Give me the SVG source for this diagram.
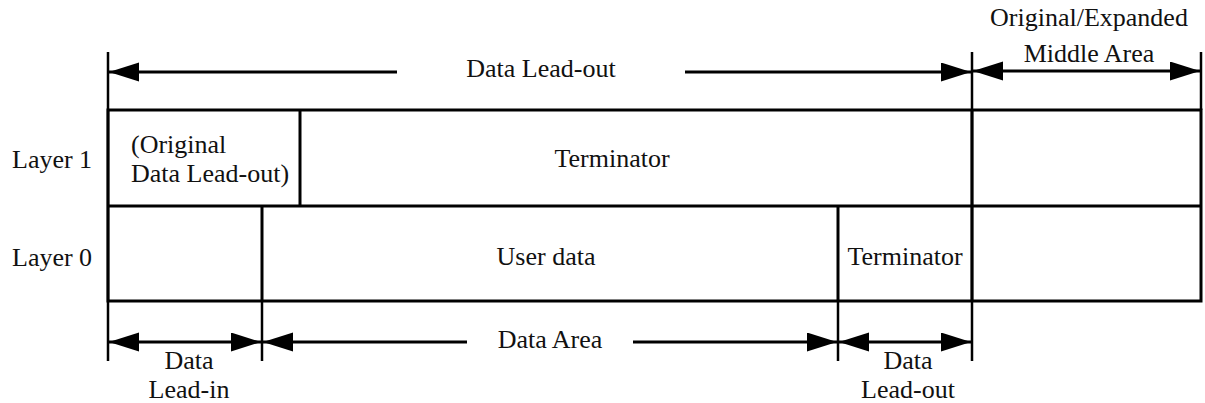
<svg xmlns="http://www.w3.org/2000/svg" width="1205" height="403" viewBox="0 0 1205 403">
<style>
text{font-family:"Liberation Serif","Times New Roman",serif;font-size:26px;fill:#111}
.c{text-anchor:middle}
.t{stroke:#000;stroke-width:3;fill:none}
.e{stroke:#000;stroke-width:2.5;fill:none}
.a{stroke:#000;stroke-width:3;fill:none}
</style>
<defs>
<marker id="ah" markerUnits="userSpaceOnUse" markerWidth="32" markerHeight="20" refX="30" refY="9.5" orient="auto-start-reverse" viewBox="0 0 32 20">
<path d="M0,0 L30,9.5 L0,19 Z" fill="#000"/>
</marker>
</defs>
<rect width="1205" height="403" fill="#fff"/>
<g id="table">
<rect class="t" x="108" y="110" width="1093" height="191"/>
<line class="t" x1="108" y1="206" x2="1201" y2="206"/>
</g>
<g id="l1-original-leadout">
<line class="t" x1="300" y1="110" x2="300" y2="206"/>
<text x="131" y="153">(Original</text>
<text x="131" y="182">Data Lead-out)</text>
</g>
<g id="l1-terminator"><text class="c" x="612" y="167">Terminator</text></g>
<g id="l0-leadin"><line class="t" x1="262" y1="206" x2="262" y2="301"/></g>
<g id="l0-userdata"><text class="c" x="546" y="265">User data</text></g>
<g id="l0-terminator">
<line class="t" x1="838" y1="206" x2="838" y2="301"/>
<text class="c" x="905" y="265">Terminator</text>
</g>
<g id="middle"><line class="t" x1="972" y1="110" x2="972" y2="301"/></g>
<g id="labels">
<text x="12" y="168">Layer 1</text>
<text x="12" y="266">Layer 0</text>
<text class="c" x="541" y="77">Data Lead-out</text>
<text class="c" x="1089" y="26">Original/Expanded</text>
<text class="c" x="1089" y="62">Middle Area</text>
<text class="c" x="550" y="348">Data Area</text>
<text class="c" x="189" y="369">Data</text>
<text class="c" x="189" y="398">Lead-in</text>
<text class="c" x="908" y="369">Data</text>
<text class="c" x="908" y="398">Lead-out</text>
</g>
<g id="connectors">
<line class="e" x1="108" y1="52" x2="108" y2="361"/>
<line class="e" x1="972" y1="52" x2="972" y2="361"/>
<line class="e" x1="1201" y1="52" x2="1201" y2="110"/>
<line class="e" x1="262" y1="301" x2="262" y2="361"/>
<line class="e" x1="838" y1="301" x2="838" y2="361"/>
<line class="a" x1="397" y1="72" x2="109" y2="72" marker-end="url(#ah)"/>
<line class="a" x1="685" y1="72" x2="971" y2="72" marker-end="url(#ah)"/>
<line class="a" x1="973" y1="71" x2="1200" y2="71" marker-start="url(#ah)" marker-end="url(#ah)"/>
<line class="a" x1="109" y1="342" x2="261" y2="342" marker-start="url(#ah)" marker-end="url(#ah)"/>
<line class="a" x1="467" y1="342" x2="263" y2="342" marker-end="url(#ah)"/>
<line class="a" x1="633" y1="342" x2="837" y2="342" marker-end="url(#ah)"/>
<line class="a" x1="839" y1="342" x2="971" y2="342" marker-start="url(#ah)" marker-end="url(#ah)"/>
</g>
</svg>
